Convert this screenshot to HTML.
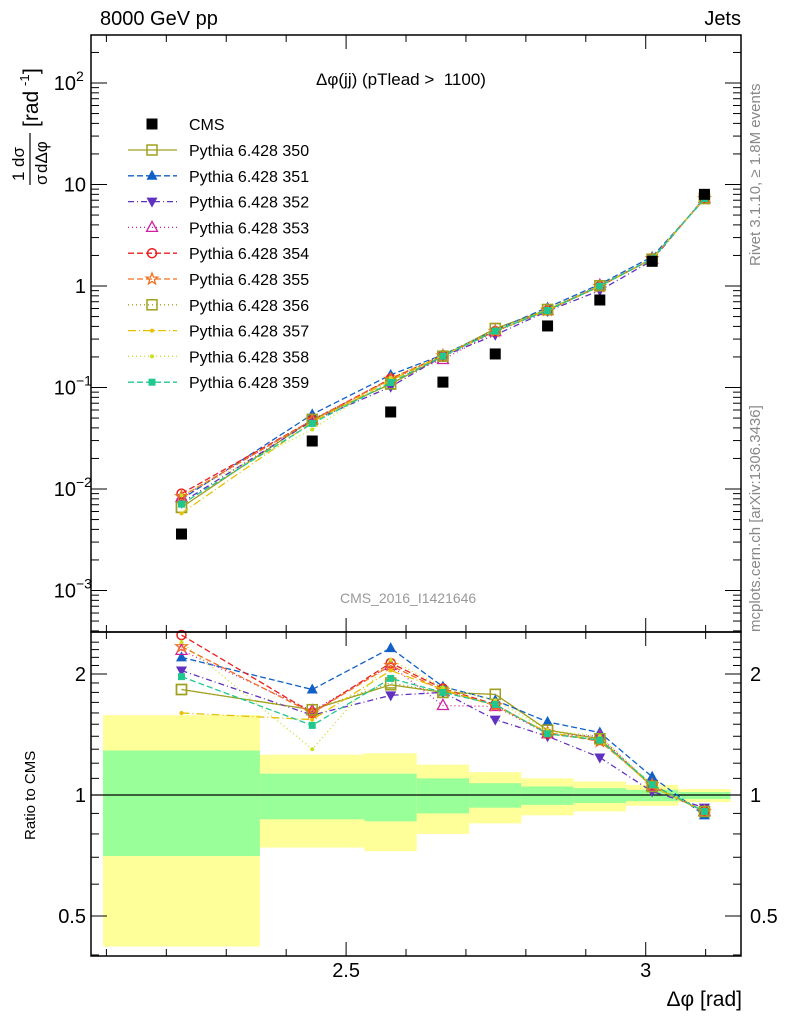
<!DOCTYPE html>
<html><head><meta charset="utf-8"><style>
body{margin:0;background:#fff}
svg{display:block;font-family:"Liberation Sans",sans-serif}
</style></head><body>
<svg id="c" width="786" height="1024" viewBox="0 0 786 1024" xmlns="http://www.w3.org/2000/svg">
<g transform="translate(38,185) rotate(-90)" font-family="Liberation Sans, sans-serif">
<text x="4" y="-14" font-size="17">1</text>
<text x="18" y="-14" font-size="17">dσ</text>
<line x1="0" x2="52" y1="-8" y2="-8" stroke="#000" stroke-width="1.2"/>
<text x="0" y="9" font-size="17">σ</text>
<text x="12" y="9" font-size="17">dΔφ</text>
<text x="58" y="0" font-size="21">[rad</text>
<text x="99" y="-9" font-size="13">-1</text>
<text x="111" y="0" font-size="21">]</text>
</g>
</svg>
<script>
const xCenters=[2.2253,2.4435,2.5744,2.6616,2.7489,2.8362,2.9234,3.0107,3.098];
const binEdges=[2.0944,2.3562,2.5307,2.6180,2.7053,2.7925,2.8798,2.9671,3.0543,3.1416];
const cmsValues=[0.0036,0.0297,0.0574,0.113,0.214,0.404,0.728,1.75,8.0];
const statLo=[0.705,0.87,0.86,0.90,0.93,0.945,0.955,0.965,0.977];
const statHi=[1.29,1.13,1.13,1.10,1.07,1.05,1.04,1.03,1.017];
const totLo=[0.42,0.74,0.725,0.80,0.85,0.89,0.91,0.94,0.96];
const totHi=[1.58,1.26,1.27,1.19,1.14,1.10,1.08,1.06,1.035];
const r350=[1.83,1.63,1.88,1.80,1.78,1.45,1.38,1.05,0.91];
const r351=[2.2,1.83,2.32,1.86,1.72,1.52,1.43,1.11,0.89];
const r352=[2.04,1.58,1.77,1.80,1.54,1.40,1.24,1.02,0.93];
const r353=[2.29,1.62,2.1,1.67,1.66,1.42,1.40,1.05,0.91];
const r354=[2.5,1.6,2.13,1.84,1.68,1.42,1.37,1.06,0.91];
const r355=[2.34,1.6,2.1,1.82,1.67,1.43,1.36,1.06,0.91];
const r356=[1.83,1.63,1.9,1.8,1.78,1.45,1.38,1.05,0.91];
const r357=[1.6,1.54,2.04,1.83,1.67,1.43,1.37,1.05,0.91];
const r358=[2.4,1.30,2.17,1.85,1.72,1.45,1.40,1.06,0.91];
const r359=[1.97,1.49,1.95,1.80,1.68,1.42,1.37,1.06,0.91];
const seriesNames=["350","351","352","353","354","355","356","357","358","359"];
const seriesRatios=[r350,r351,r352,r353,r354,r355,r356,r357,r358,r359];
const seriesColors=["#a0a020","#1060c8","#6030c0","#d020a0","#e82020","#f07020","#a0a020","#e8c000","#c8e020","#20c890"];
const seriesDash=["","6,3","6,3,1,3","1,3","6,3","6,3","1,3","8,3,1,3","1,3","6,3"];
const seriesMarker=["osq","tri","dtri","otri","ocirc","star","osq","dot","dot","sq"];

const NS="http://www.w3.org/2000/svg";
const svg=document.getElementById('c');
function el(t,a,p){const e=document.createElementNS(NS,t);for(const k in a)e.setAttribute(k,a[k]);(p||svg).appendChild(e);return e;}
const L=91,R=741,T=35,M=632,B=956;
const xmin=2.0743,xmax=3.159;
const X=v=>L+(v-xmin)/(xmax-xmin)*(R-L);
const Ymain=v=>286-101.5*Math.log10(v);
const Yr=v=>795-121*Math.log2(v);

const bands=el('g',{});


for(let i=0;i<xCenters.length;i++){
  const x0=X(binEdges[i]),x1=X(binEdges[i+1]);
  const y=el('rect',{x:x0,y:Yr(totHi[i]),width:x1-x0,height:Yr(totLo[i])-Yr(totHi[i]),fill:'#ffff99'},bands);
  
  
  const g=el('rect',{x:x0,y:Yr(statHi[i]),width:x1-x0,height:Yr(statLo[i])-Yr(statHi[i]),fill:'#99ff99'},bands);
  
  
}
el('line',{x1:L,x2:R,y1:Yr(1),y2:Yr(1),stroke:'#000','stroke-width':1.2});

function marker(g,type,x,y,c,s){
  s=s||5;
  if(type=='osq')el('rect',{x:x-s,y:y-s,width:2*s,height:2*s,fill:'none',stroke:c,'stroke-width':1.5},g);
  else if(type=='sq')el('rect',{x:x-3.5,y:y-3.5,width:7,height:7,fill:c},g);
  else if(type=='tri')el('polygon',{points:`${x},${y-6} ${x-5.5},${y+4} ${x+5.5},${y+4}`,fill:c},g);
  else if(type=='dtri')el('polygon',{points:`${x},${y+6} ${x-5.5},${y-4} ${x+5.5},${y-4}`,fill:c},g);
  else if(type=='otri')el('polygon',{points:`${x},${y-6} ${x-5.5},${y+4} ${x+5.5},${y+4}`,fill:'none',stroke:c,'stroke-width':1.3},g);
  else if(type=='ocirc')el('circle',{cx:x,cy:y,r:4.5,fill:'none',stroke:c,'stroke-width':1.5},g);
  else if(type=='star'){let p=[];for(let k=0;k<10;k++){const r=k%2?2.5:6,a=-Math.PI/2+k*Math.PI/5;p.push((x+r*Math.cos(a)).toFixed(1)+','+(y+r*Math.sin(a)).toFixed(1));}el('polygon',{points:p.join(' '),fill:'none',stroke:c,'stroke-width':1.3},g);}
  else if(type=='dot')el('circle',{cx:x,cy:y,r:2,fill:c},g);
  else if(type=='cms')el('rect',{x:x-5.5,y:y-5.5,width:11,height:11,fill:'#000'},g);
}

for(let s=0;s<seriesNames.length;s++){
  const c=seriesColors[s];
  const gm=el('g',{});
  
  
  const mainPts=xCenters.map((x,i)=>[X(x),Ymain(cmsValues[i]*seriesRatios[s][i])]);
  const ratPts=xCenters.map((x,i)=>[X(x),Yr(seriesRatios[s][i])]);
  for(const pts of [mainPts,ratPts]){
    el('polyline',{points:pts.map(p=>p.join(',')).join(' '),fill:'none',stroke:c,'stroke-width':1.3,'stroke-dasharray':seriesDash[s]},gm);
    pts.forEach(p=>marker(gm,seriesMarker[s],p[0],p[1],c));
  }
}
const gc=el('g',{});


xCenters.forEach((x,i)=>marker(gc,'cms',X(x),Ymain(cmsValues[i]),'#000'));

el('rect',{x:L,y:T,width:R-L,height:M-T,fill:'none',stroke:'#000','stroke-width':1.5});
el('rect',{x:L,y:M,width:R-L,height:B-M,fill:'none',stroke:'#000','stroke-width':1.5});
for(let v=2.1;v<3.16;v+=0.05){
  const major=Math.abs(v*2-Math.round(v*2))<1e-6;
  const tenth=Math.abs(v*10-Math.round(v*10))<1e-6;
  const len=major?14:(tenth?7:0);
  if(!len)continue;
  const x=X(v);
  for(const [y0,d] of [[T,1],[M,-1],[M,1],[B,-1]])el('line',{x1:x,x2:x,y1:y0,y2:y0+d*len,stroke:'#000'});
}
const xt=[2.5,3];const xtLabels=["2.5","3"];
xt.forEach((v,i)=>{const t=el('text',{x:X(v),y:977,'font-size':20,'text-anchor':'middle'});t.textContent=xtLabels[i];});
for(let d=-4;d<=2;d++){for(let k=1;k<10;k++){const v=k*Math.pow(10,d);const y=Ymain(v);if(y<T||y>M)continue;const len=k==1?16:8;el('line',{x1:L,x2:L+len,y1:y,y2:y,stroke:'#000'});el('line',{x1:R,x2:R-len,y1:y,y2:y,stroke:'#000'});}}
const yMainTicks=[[100,"10","2"],[10,"10",""],[1,"1",""],[0.1,"10","−1"],[0.01,"10","−2"],[0.001,"10","−3"]];
yMainTicks.forEach(([v,b,e])=>{
  const y=Ymain(v)+7;
  const t=el('text',{x:e?76:86,y:y,'font-size':20,'text-anchor':'end'});t.textContent=b;
  
  if(e){const s=el('text',{x:76,y:y-9,'font-size':14});s.textContent=e;}
});
for(let v=0.4;v<=2.5;v+=0.1){const y=Yr(v);if(y<M||y>B)continue;const maj=[0.5,1,2].some(m=>Math.abs(m-v)<1e-6);const len=maj?16:8;el('line',{x1:L,x2:L+len,y1:y,y2:y,stroke:'#000'});el('line',{x1:R,x2:R-len,y1:y,y2:y,stroke:'#000'});}
[[2,"2"],[1,"1"],[0.5,"0.5"]].forEach(([v,s])=>{
  const t=el('text',{x:86,y:Yr(v)+7,'font-size':20,'text-anchor':'end'});t.textContent=s;
  const t2=el('text',{x:750,y:Yr(v)+7,'font-size':20});t2.textContent=s;
});

const lg=el('g',{});


marker(lg,'cms',152,124,'#000');
let t0=el('text',{x:189,y:130,'font-size':16},lg);t0.textContent="CMS";
for(let s=0;s<seriesNames.length;s++){
  const y=150+s*25.8;
  el('line',{x1:128,x2:177,y1:y,y2:y,stroke:seriesColors[s],'stroke-width':1.3,'stroke-dasharray':seriesDash[s]},lg);
  marker(lg,seriesMarker[s],152,y,seriesColors[s]);
  const t=el('text',{x:189,y:y+6,'font-size':16},lg);t.textContent="Pythia 6.428 "+seriesNames[s];
  
}
</script>
<div style="position:absolute;left:0;top:0;width:786px;height:1024px;font-family:'Liberation Sans',sans-serif;pointer-events:none">
<div style="position:absolute;left:100px;top:8px;font-size:20px">8000 GeV pp</div>
<div style="position:absolute;right:45px;top:8px;font-size:20px">Jets</div>
<div style="position:absolute;left:316px;top:70px;font-size:17px">Δφ(jj) (pTlead &gt;&nbsp; 1100)</div>
<div style="position:absolute;left:340px;top:590px;font-size:14px;color:#999">CMS_2016_I1421646</div>
<div style="position:absolute;left:747px;top:30px;font-size:15px;color:#888;writing-mode:vertical-rl;transform:rotate(180deg);height:236px;text-align:left">Rivet 3.1.10, ≥ 1.8M events</div>
<div style="position:absolute;left:747px;top:344px;font-size:15px;color:#888;writing-mode:vertical-rl;transform:rotate(180deg);height:288px;text-align:left">mcplots.cern.ch [arXiv:1306.3436]</div>
<div style="position:absolute;left:22px;top:740px;height:110px;writing-mode:vertical-rl;transform:rotate(180deg);font-size:15px;text-align:center">Ratio to CMS</div>
<div style="position:absolute;right:44px;top:988px;font-size:21px">Δφ [rad]</div>
</div>
</body></html>
